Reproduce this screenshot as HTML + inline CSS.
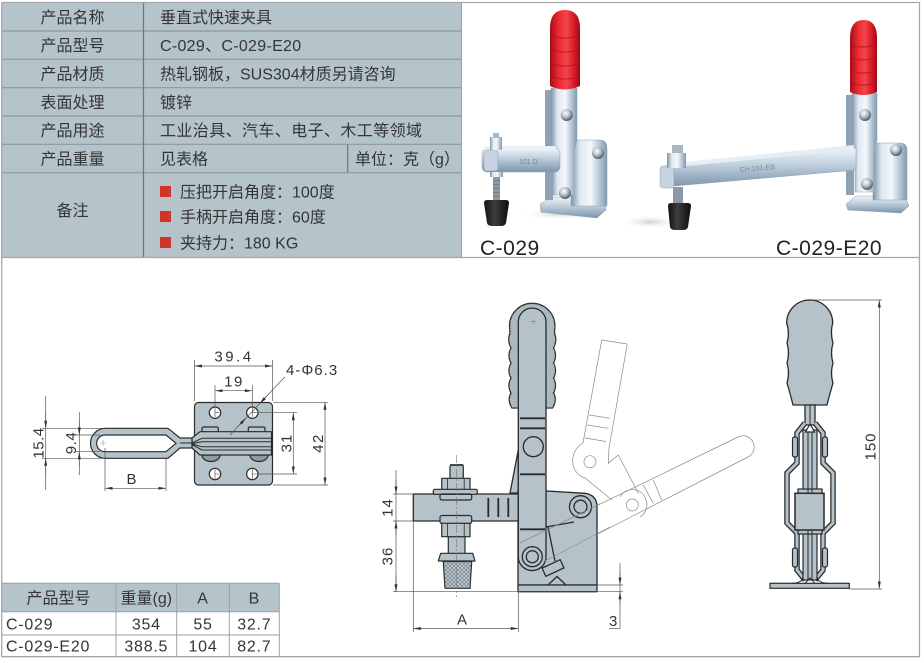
<!DOCTYPE html>
<html><head><meta charset="utf-8"><style>
html,body{margin:0;padding:0;background:#fff;}
svg{display:block;}
text{font-family:"Liberation Sans","Noto Sans CJK SC",sans-serif;}
</style></head><body>
<svg width="924" height="663" viewBox="0 0 924 663" xmlns="http://www.w3.org/2000/svg">
<defs>
<linearGradient id="stH" x1="0" y1="0" x2="1" y2="0">
<stop offset="0" stop-color="#7d93a8"/><stop offset=".25" stop-color="#dfe8f1"/><stop offset=".55" stop-color="#f4f8fb"/><stop offset=".8" stop-color="#b3c4d4"/><stop offset="1" stop-color="#8298ad"/>
</linearGradient>
<linearGradient id="stV" x1="0" y1="0" x2="0" y2="1">
<stop offset="0" stop-color="#eef3f8"/><stop offset=".35" stop-color="#c9d6e3"/><stop offset=".7" stop-color="#9fb3c6"/><stop offset="1" stop-color="#7e94a9"/>
</linearGradient>
<linearGradient id="rd" x1="0" y1="0" x2="1" y2="0">
<stop offset="0" stop-color="#a50d18"/><stop offset=".3" stop-color="#ee2a33"/><stop offset=".55" stop-color="#f2454b"/><stop offset=".8" stop-color="#d81b26"/><stop offset="1" stop-color="#9c0b15"/>
</linearGradient>
<radialGradient id="ball" cx=".4" cy=".35" r=".65">
<stop offset="0" stop-color="#ffffff"/><stop offset=".5" stop-color="#b8c2cc"/><stop offset="1" stop-color="#4d5966"/>
</radialGradient>
<linearGradient id="blk" x1="0" y1="0" x2="1" y2="0">
<stop offset="0" stop-color="#111"/><stop offset=".4" stop-color="#3d3d3d"/><stop offset="1" stop-color="#0d0d0d"/>
</linearGradient>
<radialGradient id="shd" cx=".5" cy=".5" r=".5">
<stop offset="0" stop-color="#cfcfcf"/><stop offset="1" stop-color="#ffffff" stop-opacity="0"/>
</radialGradient>
<pattern id="xh" width="4" height="4" patternUnits="userSpaceOnUse"><path d="M0,0 L4,4 M4,0 L0,4" stroke="#5d6870" stroke-width=".5"/></pattern>
<pattern id="gh" width="3" height="3" patternUnits="userSpaceOnUse"><path d="M0,0 L3,3 M3,0 L0,3" stroke="#8d99a0" stroke-width=".35"/></pattern>
<marker id="ar" viewBox="0 0 10 4" refX="10" refY="2" markerWidth="8" markerHeight="3" orient="auto-start-reverse" markerUnits="userSpaceOnUse"><path d="M0,0 L10,2 L0,4 z" fill="#333"/></marker>
</defs>

<!-- ===== TOP TABLE ===== -->
<rect x="2" y="3" width="459.5" height="254.5" fill="#b5c3ca"/>
<g stroke="#8d989e" stroke-width="1.2">
<line x1="2" y1="31" x2="461.5" y2="31"/>
<line x1="2" y1="59.3" x2="461.5" y2="59.3"/>
<line x1="2" y1="87.7" x2="461.5" y2="87.7"/>
<line x1="2" y1="116" x2="461.5" y2="116"/>
<line x1="2" y1="144.3" x2="461.5" y2="144.3"/>
<line x1="2" y1="172.7" x2="461.5" y2="172.7"/>
</g>
<line x1="143.5" y1="3" x2="143.5" y2="257.5" stroke="#6e777c" stroke-width="1.2"/>
<line x1="347.7" y1="144.3" x2="347.7" y2="172.7" stroke="#6e777c" stroke-width="1.2"/>
<line x1="461.5" y1="3" x2="461.5" y2="257.5" stroke="#9aa0a4" stroke-width="1"/>

<g font-size="16" fill="#353535">
<text x="72.5" y="22.9" text-anchor="middle">产品名称</text>
<text x="72.5" y="51.2" text-anchor="middle">产品型号</text>
<text x="72.5" y="79.5" text-anchor="middle">产品材质</text>
<text x="72.5" y="107.9" text-anchor="middle">表面处理</text>
<text x="72.5" y="136.2" text-anchor="middle">产品用途</text>
<text x="72.5" y="164.5" text-anchor="middle">产品重量</text>
<text x="72.5" y="216" text-anchor="middle">备注</text>
<text x="160" y="22.9">垂直式快速夹具</text>
<text x="160" y="51.2" letter-spacing=".3">C-029、C-029-E20</text>
<text x="160" y="79.5">热轧钢板，SUS304材质另请咨询</text>
<text x="160" y="107.9">镀锌</text>
<text x="160" y="136.2" letter-spacing=".4">工业治具、汽车、电子、木工等领域</text>
<text x="160" y="164.5">见表格</text>
<text x="355" y="164.5">单位：克（g）</text>
<text x="180" y="197.7">压把开启角度：100度</text>
<text x="180" y="222.7">手柄开启角度：60度</text>
<text x="180" y="248.3">夹持力：180 KG</text>
</g>
<g fill="#d1342b">
<rect x="160" y="186" width="11" height="11"/>
<rect x="160" y="211" width="11" height="11"/>
<rect x="160" y="237" width="11" height="11"/>
</g>

<!-- ===== PHOTOS ===== -->
<!-- C-029 -->
<ellipse cx="560" cy="214" rx="40" ry="6" fill="url(#shd)"/>
<polygon points="540,204 553,197 605,197 606,210 597,218 541,212" fill="url(#stV)" stroke="#8aa0b3" stroke-width=".5"/>
<path d="M571,140 H600 Q607,140 607,148 V206 H571 Z" fill="url(#stH)" stroke="#8aa0b3" stroke-width=".5"/>
<rect x="545" y="90" width="8" height="110" fill="#8fa2b5"/>
<path d="M551,88 H577 V140 L574,150 V195 H553 V150 L551,140 Z" fill="url(#stH)" stroke="#8aa0b3" stroke-width=".5"/>
<rect x="482" y="148" width="78" height="24" rx="5" fill="url(#stV)" stroke="#8aa0b3" stroke-width=".5"/>
<rect x="484" y="146" width="72" height="5" rx="2" fill="#e9f0f6"/>
<rect x="484" y="150" width="14" height="21" rx="3" fill="#c7d3df" stroke="#8aa0b3" stroke-width=".5"/>
<text x="519" y="164" font-size="7" fill="#7b8794">101 D</text>
<rect x="490" y="137" width="12" height="13" fill="url(#stH)"/>
<rect x="493" y="133" width="6" height="5" fill="#aab7c4"/>
<rect x="490" y="172" width="13" height="5" fill="url(#stH)"/>
<rect x="493" y="177" width="7" height="25" fill="#8c98a4"/>
<g stroke="#5f6a75" stroke-width=".6"><line x1="493" y1="181" x2="500" y2="180"/><line x1="493" y1="185" x2="500" y2="184"/><line x1="493" y1="189" x2="500" y2="188"/><line x1="493" y1="193" x2="500" y2="192"/><line x1="493" y1="197" x2="500" y2="196"/></g>
<path d="M484,203 Q484,200 487,200 H506 Q509,200 509,203 L506,223 Q505,226 501,226 H492 Q488,226 487,223 Z" fill="url(#blk)"/>
<path d="M550,28 Q550,10 565,10 Q580,10 580,28 V86 Q565,93 550,86 Z" fill="url(#rd)"/>
<g fill="none" stroke="#a80e19" stroke-width="1.2" opacity=".55"><path d="M551,36 Q565,40 579,36"/><path d="M551,50 Q565,54 579,50"/><path d="M551,64 Q565,68 579,64"/><path d="M551,77 Q565,81 579,77"/></g>
<circle cx="566.7" cy="115" r="6" fill="url(#ball)"/>
<circle cx="598" cy="153" r="6" fill="url(#ball)"/>
<circle cx="565" cy="193" r="6" fill="url(#ball)"/>

<!-- C-029-E20 -->
<ellipse cx="650" cy="222" rx="30" ry="7" fill="url(#shd)"/>
<polygon points="846,204 856,196 905,196 909,206 901,213 848,210" fill="url(#stV)" stroke="#8aa0b3" stroke-width=".5"/>
<path d="M873,143 H900 Q907,143 907,150 V200 H873 Z" fill="url(#stH)" stroke="#8aa0b3" stroke-width=".5"/>
<rect x="846" y="95" width="8" height="100" fill="#8fa2b5"/>
<path d="M852,93 H877 V140 L874,150 V192 H855 V150 L852,140 Z" fill="url(#stH)" stroke="#8aa0b3" stroke-width=".5"/>
<polygon points="663,167 856,148 856,170 663,187" fill="url(#stV)" stroke="#8aa0b3" stroke-width=".5"/>
<polygon points="665,164 854,145 854,150 665,168" fill="#e6eef5"/>
<rect x="660" y="166" width="14" height="22" rx="3" fill="#c7d3df" stroke="#8aa0b3" stroke-width=".5"/>
<text x="740" y="172" font-size="7" fill="#7b8794" transform="rotate(-5 740 172)">CH 101-EB</text>
<rect x="667" y="153" width="19" height="15" fill="url(#stH)"/>
<rect x="672" y="145" width="11" height="8" fill="#aab7c4"/>
<rect x="673" y="187" width="10" height="17" fill="#8c98a4"/>
<path d="M668,206 Q668,203 671,203 H688 Q691,203 691,206 L688,227 Q687,230 683,230 H675 Q671,230 670,227 Z" fill="url(#blk)"/>
<path d="M850,38 Q850,20 863.5,20 Q877,20 877,38 V92 Q863.5,98 850,92 Z" fill="url(#rd)"/>
<g fill="none" stroke="#a80e19" stroke-width="1.2" opacity=".55"><path d="M851,45 Q863,49 876,45"/><path d="M851,58 Q863,62 876,58"/><path d="M851,71 Q863,75 876,71"/><path d="M851,83 Q863,87 876,83"/></g>
<circle cx="865" cy="115" r="6" fill="url(#ball)"/>
<circle cx="896" cy="150" r="6" fill="url(#ball)"/>
<circle cx="867" cy="184" r="6" fill="url(#ball)"/>

<g font-size="21" fill="#222" letter-spacing=".5">
<text x="480" y="255">C-029</text>
<text x="776" y="255">C-029-E20</text>
</g>

<!-- ===== LEFT DRAWING (plan view) ===== -->
<g stroke="#2c2c2c" stroke-width="1.2" stroke-linejoin="round">
<rect x="194.5" y="402.5" width="78" height="82.5" rx="4" fill="#b5c2c9"/>
<path d="M202,432 V428.5 Q202,427 204,427 H216.5 Q218.3,427 218.3,428.5 V432 Z" fill="#b5c2c9"/>
<path d="M248.3,432 V428.5 Q248.3,427 250,427 H263 Q265,427 265,428.5 V432 Z" fill="#b5c2c9"/>
<path d="M202,455 A9,6.5 0 0 0 220,455 Z" fill="#8e9aa1"/>
<path d="M250,455 A9,6.5 0 0 0 268,455 Z" fill="#8e9aa1"/>
<path d="M192,438 L200,431.7 L271.5,431.7 L271.5,455 L200,455 L192,448 Z" fill="#b5c2c9"/>
<path d="M192,438 L180,438 L168,428.3 L105.5,428.3 A15,15 0 0 0 105.5,458.3 L168,458.3 L180,448 L192,448 Z" fill="#b5c2c9"/>
<path d="M166,435 L105,435 A8.35,8.35 0 0 0 105,451.7 L166,451.7 L176,443.3 Z" fill="#fff"/>
<g fill="none" stroke-width="1">
<path d="M180,443 L192,443 L202,438.3 L271.5,438.3"/>
<path d="M192,443.6 L202,441.7 L271.5,441.7"/>
<path d="M192,444 L202,446.7 L271.5,446.7"/>
<path d="M192,444.5 L202,450 L271.5,450"/>
</g>
<g fill="#fff">
<circle cx="215" cy="412.7" r="5.7"/>
<circle cx="252.3" cy="412.7" r="5.7"/>
<circle cx="215" cy="474" r="5.7"/>
<circle cx="252.3" cy="474" r="5.7"/>
</g>
</g>
<g stroke="#444" stroke-width=".6">
<path d="M215,408 V417 M215,412.7 H219.5"/><path d="M252.3,408 V417 M252.3,412.7 H256.8"/>
<path d="M215,469.3 V478.7 M215,474 H219.5"/><path d="M252.3,469.3 V478.7 M252.3,474 H256.8"/>
</g>
<path d="M100,443 H106 M103,440 V446" stroke="#999" stroke-width=".6"/>

<g stroke="#555" stroke-width=".7" fill="none">
<!-- 39.4 -->
<line x1="194.5" y1="360" x2="194.5" y2="401"/><line x1="272.5" y1="360" x2="272.5" y2="401"/>
<line x1="194.5" y1="366" x2="272.5" y2="366" marker-start="url(#ar)" marker-end="url(#ar)"/>
<!-- 19 -->
<line x1="215" y1="385" x2="215" y2="407"/><line x1="252.3" y1="385" x2="252.3" y2="407"/>
<line x1="215" y1="390.7" x2="252.3" y2="390.7" marker-start="url(#ar)" marker-end="url(#ar)"/>
<!-- leader -->
<line x1="285" y1="376.7" x2="230" y2="435"/>
<line x1="267" y1="395.8" x2="259.6" y2="403.6" marker-end="url(#ar)"/>
<line x1="238.6" y1="425.9" x2="246" y2="418" marker-end="url(#ar)"/>
<!-- 31 -->
<line x1="258" y1="412.7" x2="297" y2="412.7"/><line x1="258" y1="474" x2="297" y2="474"/>
<line x1="293.3" y1="412.7" x2="293.3" y2="474" marker-start="url(#ar)" marker-end="url(#ar)"/>
<!-- 42 -->
<line x1="273" y1="402.3" x2="328" y2="402.3"/><line x1="273" y1="485" x2="328" y2="485"/>
<line x1="325" y1="402.3" x2="325" y2="485" marker-start="url(#ar)" marker-end="url(#ar)"/>
<!-- 15.4 -->
<line x1="42" y1="428.3" x2="104" y2="428.3"/><line x1="42" y1="458.3" x2="104" y2="458.3"/>
<line x1="45.7" y1="396" x2="45.7" y2="490"/>
<line x1="45.7" y1="412" x2="45.7" y2="428.3" marker-end="url(#ar)"/>
<line x1="45.7" y1="474" x2="45.7" y2="458.3" marker-end="url(#ar)"/>
<!-- 9.4 -->
<line x1="76" y1="435" x2="100" y2="435"/><line x1="76" y1="451.7" x2="100" y2="451.7"/>
<line x1="79.3" y1="412" x2="79.3" y2="475"/>
<line x1="79.3" y1="421" x2="79.3" y2="435" marker-end="url(#ar)"/>
<line x1="79.3" y1="466" x2="79.3" y2="451.7" marker-end="url(#ar)"/>
<!-- B -->
<line x1="105" y1="448" x2="105" y2="491"/><line x1="166" y1="459" x2="166" y2="491"/>
<line x1="105" y1="488.3" x2="166" y2="488.3" marker-start="url(#ar)" marker-end="url(#ar)"/>
</g>
<g font-size="15" fill="#333">
<text x="234" y="361.7" text-anchor="middle" letter-spacing="2.5">39.4</text>
<text x="234" y="386.7" text-anchor="middle" letter-spacing="1.5">19</text>
<text x="286" y="375" letter-spacing="1">4-Φ6.3</text>
<text x="131.5" y="484" text-anchor="middle">B</text>
<text x="43.5" y="443" text-anchor="middle" letter-spacing=".5" transform="rotate(-90 43.5 443)">15.4</text>
<text x="76" y="443" text-anchor="middle" letter-spacing=".5" transform="rotate(-90 76 443)">9.4</text>
<text x="291.5" y="443" text-anchor="middle" letter-spacing="1" transform="rotate(-90 291.5 443)">31</text>
<text x="323" y="443" text-anchor="middle" letter-spacing="1.5" transform="rotate(-90 323 443)">42</text>
</g>

<!-- ===== MIDDLE DRAWING ===== -->
<!-- ghost lines behind -->
<g stroke="#8a8a8a" stroke-width=".7" fill="none">
<path d="M601.7,340 L627.3,344 M601.7,340 L583,443 M627.3,344 L609,448"/>
<path d="M589.3,415 L610,418.3 M587.3,425 L608.3,428.3 M585,438 L606,441.5"/>
<path d="M583,443 C569,451 569,473 585,478 L612,500"/>
<path d="M609,448 L608.3,463.3 L618.3,455 L638.3,493.3"/>
<circle cx="590" cy="461.7" r="6"/>
<path d="M520,543 L738,437 A11,11 0 0 1 748,457 L543,562"/>
<path d="M620,497 A14,14 0 0 1 646,500 A14,14 0 0 1 640,517"/>
<circle cx="632.3" cy="505" r="6"/>
<path d="M643.3,485 L653.3,503.3 M653.3,480 L661.7,500"/>
</g>
<g stroke="#2a2a2a" stroke-width="1.3" fill="#b5c2c9" stroke-linejoin="round">
<path d="M512,408 Q507,400 511,393 Q507,385.5 511,378 Q507,370.5 511,363 Q507,355.5 511,348 Q507,340.5 510,333 L509.5,326 A22.7,22.7 0 0 1 554.9,326 L554.5,333 Q557.5,340.5 553.5,348 Q557.5,355.5 553.5,363 Q557.5,370.5 553.5,378 Q557.5,385.5 553.5,393 Q557.5,400 552.5,408 Z"/>
<path d="M512,408 Q507,400 511,393 Q507,385.5 511,378 Q507,370.5 511,363 Q507,355.5 511,348 Q507,340.5 510,333 L509.5,326 A22.7,22.7 0 0 1 554.9,326 L554.5,333 Q557.5,340.5 553.5,348 Q557.5,355.5 553.5,363 Q557.5,370.5 553.5,378 Q557.5,385.5 553.5,393 Q557.5,400 552.5,408 Z" fill="url(#gh)" stroke="none"/>
<polygon points="518.3,450 510,493 518.3,493"/>
<path d="M530,490 L585,493.3 Q597,495 597,507 L597,585 L518,585 L518,490 Z"/>
<rect x="518" y="585" width="79" height="6.7"/>
<rect x="413.3" y="494" width="105" height="27"/>
<line x1="546" y1="527" x2="574" y2="522"/>
<line x1="548" y1="527" x2="555" y2="561"/>
<circle cx="580.5" cy="506.7" r="11"/>
<circle cx="580.5" cy="506.7" r="6.5"/>
<path d="M518.3,322 A13.85,13.85 0 0 1 546,322 L546,556.7 A13.85,13.85 0 0 1 518.3,556.7 Z"/>
<circle cx="533.3" cy="446.7" r="10"/>
<circle cx="532.3" cy="556.7" r="10"/>
<circle cx="532.3" cy="556.7" r="6"/>
<rect x="543" y="563.5" width="20" height="9" transform="rotate(-25 553 568)"/>
<polyline points="548,585 557,576.5 566,585" fill="none"/>
</g>
<g stroke="#2a2a2a" stroke-width="1.8">
<line x1="520" y1="418.3" x2="545" y2="418.3"/>
<line x1="520" y1="428.3" x2="545" y2="428.3"/>
<line x1="520" y1="474.3" x2="545" y2="474.3"/>
<line x1="520" y1="529.3" x2="545" y2="529.3"/>
<line x1="488.3" y1="498" x2="488.3" y2="517"/>
<line x1="498.3" y1="498" x2="498.3" y2="517"/>
<line x1="508.3" y1="498" x2="508.3" y2="517"/>
</g>
<path d="M530.5,321.7 H536 M533.3,319 V324.5" stroke="#888" stroke-width=".6"/>
<!-- ghost lines over body -->
<g stroke="#8a8a8a" stroke-width=".7" fill="none">
<line x1="520" y1="543" x2="600" y2="504"/>
<line x1="543" y1="562" x2="610" y2="527"/>
</g>
<!-- spindle -->
<g stroke="#2a2a2a" stroke-width="1.2" fill="#b5c2c9" stroke-linejoin="round">
<rect x="448.3" y="536.7" width="16.7" height="17"/>
<rect x="450" y="465" width="13.3" height="14" rx="1.5"/>
<rect x="441.7" y="478.3" width="28.3" height="11.5"/>
<rect x="433.3" y="489.3" width="44" height="5" rx="1.5"/>
<rect x="440" y="494" width="31.7" height="6" rx="2" fill="none"/>
<rect x="440" y="515.5" width="31.7" height="8" rx="2"/>
<rect x="441.7" y="523.3" width="28.3" height="13.4"/>
<path d="M440.7,553.3 L472.7,553.3 L475,561 L438.3,561 Z"/>
<path d="M443.3,561.5 L471.7,561.5 L470,588.3 L445,588.3 Z"/>
<path d="M443.3,561.5 L471.7,561.5 L470,588.3 L445,588.3 Z" fill="url(#xh)" stroke="none"/>
</g>
<g stroke="#2a2a2a" stroke-width="1.6"><line x1="450" y1="465" x2="463.3" y2="465"/></g>
<g stroke="#2a2a2a" stroke-width=".8">
<line x1="447.5" y1="478.3" x2="447.5" y2="489.8"/><line x1="464.2" y1="478.3" x2="464.2" y2="489.8"/>
<line x1="447.5" y1="523.3" x2="447.5" y2="536.7"/><line x1="464.2" y1="523.3" x2="464.2" y2="536.7"/>
</g>
<line x1="456.7" y1="455" x2="456.7" y2="597" stroke="#777" stroke-width=".6" stroke-dasharray="8,2,2,2"/>
<!-- middle dims -->
<g stroke="#555" stroke-width=".7" fill="none">
<line x1="393" y1="494" x2="413" y2="494"/>
<line x1="393" y1="521" x2="413" y2="521"/>
<line x1="393" y1="591.7" x2="623" y2="591.7"/>
<line x1="597" y1="585" x2="623" y2="585"/>
<line x1="413.3" y1="521" x2="413.3" y2="632"/>
<line x1="518.3" y1="592" x2="518.3" y2="632"/>
<line x1="396" y1="470" x2="396" y2="591.7"/>
<line x1="396" y1="480" x2="396" y2="494" marker-end="url(#ar)"/>
<line x1="396" y1="535" x2="396" y2="521" marker-end="url(#ar)"/>
<line x1="396" y1="575" x2="396" y2="591.7" marker-end="url(#ar)"/>
<line x1="620" y1="563" x2="620" y2="628.5"/>
<line x1="620" y1="572" x2="620" y2="585" marker-end="url(#ar)"/>
<line x1="620" y1="605" x2="620" y2="591.7" marker-end="url(#ar)"/>
<line x1="609" y1="628.5" x2="620" y2="628.5"/>
<line x1="413.3" y1="628.5" x2="518.3" y2="628.5" marker-start="url(#ar)" marker-end="url(#ar)"/>
</g>
<g font-size="15" fill="#333">
<text x="462" y="624.5" text-anchor="middle">A</text>
<text x="609" y="626">3</text>
<text x="392.5" y="507.5" text-anchor="middle" letter-spacing="1" transform="rotate(-90 392.5 507.5)">14</text>
<text x="392.5" y="556" text-anchor="middle" letter-spacing="1" transform="rotate(-90 392.5 556)">36</text>
</g>

<!-- ===== RIGHT DRAWING (side view) ===== -->
<g stroke="#2a2a2a" stroke-width="1.3" fill="#b5c2c9" stroke-linejoin="round">
<path d="M786.7,323 A23,23 0 0 1 832.7,323 Q830,333 833,343 Q830,353 833,363 Q830,373 833,383 Q830,393 827,405 H793 Q790,393 787,383 Q790,373 787,363 Q790,353 787,343 Q790,333 786.7,323 Z"/>
<rect x="805" y="405" width="10" height="20"/>
</g>
<g fill="none" stroke-linejoin="miter">
<polyline points="805,423 797,433 797,463 787,473 787,523 797,533 797,570 805,580" stroke="#2a2a2a" stroke-width="5.5"/>
<polyline points="815,423 823,433 823,463 833,473 833,523 823,533 823,570 815,580" stroke="#2a2a2a" stroke-width="5.5"/>
<polyline points="805,423 797,433 797,463 787,473 787,523 797,533 797,570 805,580" stroke="#b5c2c9" stroke-width="3"/>
<polyline points="815,423 823,433 823,463 833,473 833,523 823,533 823,570 815,580" stroke="#b5c2c9" stroke-width="3"/>
</g>
<g stroke="#2a2a2a" stroke-width="1.2" fill="#b5c2c9">
<rect x="792.5" y="437" width="5" height="20" rx="2"/>
<rect x="822.5" y="437" width="5" height="20" rx="2"/>
<rect x="792.5" y="548" width="5" height="19" rx="2"/>
<rect x="822.5" y="548" width="5" height="19" rx="2"/>
<rect x="803" y="430" width="14" height="150"/>
<polygon points="805.5,432 810,424 814.5,432" fill="#fff"/>
<rect x="798" y="489" width="24" height="5"/>
<rect x="798" y="529" width="24" height="5"/>
<rect x="795" y="493.3" width="29" height="36.7" stroke-width="1.5"/>
<rect x="770" y="583.3" width="79.3" height="5"/>
</g>
<g stroke="#2a2a2a" stroke-width="1" fill="none">
<line x1="808" y1="432" x2="808" y2="493"/><line x1="812" y1="432" x2="812" y2="493"/>
<line x1="808" y1="530" x2="808" y2="580"/><line x1="812" y1="530" x2="812" y2="580"/>
<line x1="810" y1="405" x2="810" y2="424"/>
<path d="M803,576 Q803,583 792,583.3 M817,576 Q817,583 828,583.3 M805,583.3 L810,578 L815,583.3"/>
</g>
<g stroke="#555" stroke-width=".7" fill="none">
<line x1="812" y1="300" x2="882" y2="300"/>
<line x1="849.5" y1="589" x2="882" y2="589"/>
<line x1="879.3" y1="300" x2="879.3" y2="589" marker-start="url(#ar)" marker-end="url(#ar)"/>
</g>
<text x="875.5" y="446.5" font-size="15" fill="#333" text-anchor="middle" letter-spacing="1" transform="rotate(-90 875.5 446.5)">150</text>

<!-- ===== BOTTOM TABLE ===== -->
<rect x="2" y="583.3" width="277.3" height="28.4" fill="#b5c3ca"/>
<g stroke="#9aa1a5" stroke-width="1">
<line x1="2" y1="583.3" x2="279.3" y2="583.3"/>
<line x1="2" y1="611.7" x2="279.3" y2="611.7"/>
<line x1="2" y1="635" x2="279.3" y2="635"/>
<line x1="116" y1="583.3" x2="116" y2="656.7"/>
<line x1="176.7" y1="583.3" x2="176.7" y2="656.7"/>
<line x1="229.3" y1="583.3" x2="229.3" y2="656.7"/>
<line x1="279.3" y1="583.3" x2="279.3" y2="656.7"/>
</g>
<g font-size="16" fill="#353535" letter-spacing=".75">
<text x="58.5" y="603.5" text-anchor="middle" letter-spacing="0">产品型号</text>
<text x="146.3" y="603.5" text-anchor="middle" letter-spacing="0">重量(g)</text>
<text x="203" y="603.5" text-anchor="middle">A</text>
<text x="254.3" y="603.5" text-anchor="middle">B</text>
<text x="6" y="629.3">C-029</text>
<text x="146.3" y="629.3" text-anchor="middle">354</text>
<text x="203" y="629.3" text-anchor="middle">55</text>
<text x="254.3" y="629.3" text-anchor="middle">32.7</text>
<text x="6" y="651.5">C-029-E20</text>
<text x="146.3" y="651.5" text-anchor="middle">388.5</text>
<text x="203" y="651.5" text-anchor="middle">104</text>
<text x="254.3" y="651.5" text-anchor="middle">82.7</text>
</g>

<!-- ===== FRAME ===== -->
<g stroke="#a3a8ab" stroke-width="1.3" fill="none">
<line x1="1.7" y1="2.5" x2="920" y2="2.5"/>
<line x1="1.7" y1="2.5" x2="1.7" y2="657"/>
<line x1="919.5" y1="2.5" x2="919.5" y2="657"/>
<line x1="1.7" y1="656.7" x2="920" y2="656.7"/>
<line x1="1.7" y1="257.5" x2="920" y2="257.5"/>
</g>
</svg>
</body></html>
